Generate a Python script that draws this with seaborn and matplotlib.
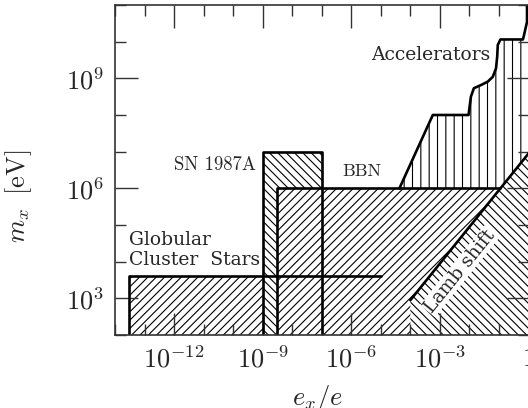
import numpy as np
import pandas as pd
import matplotlib
matplotlib.use("Agg")
import matplotlib.pyplot as plt
import seaborn as sns

# ---- excluded regions in the (e_x/e, m_x) plane ----
# Globular cluster stars box
glob_x = [3e-14, 1e-5]
glob_y = [1e2, 4e3]

# SN 1987A box
sn_x = [1e-9, 1e-7]
sn_y = [1e2, 1e7]

# Big-bang nucleosynthesis box
bbn_x = [3e-9, 1.0]
bbn_y = [1e2, 1e6]

# Accelerator limit (log10 of e_x/e and log10 of m_x / eV)
acc_logx = [-4.37, -3.24, -2.03, -1.95, -1.85, -1.60, -1.38, -1.21,
            -1.10, -1.06, -1.04, -0.95, -0.19, -0.16, -0.05, -0.05]
acc_logy = [6.00, 8.00, 8.00, 8.50, 8.73, 8.82, 8.91, 9.04,
            9.27, 9.59, 9.91, 10.06, 10.06, 10.15, 10.54, 11.20]

# Lamb shift limit: straight line in log-log
lamb_logx = [-4.0, 0.0]
lamb_logy = [2.95, 6.95]

# axis ticks
xmajor = [1e-12, 1e-9, 1e-6, 1e-3, 1.0]
xmajor_labels = [r"$10^{-12}$", r"$10^{-9}$", r"$10^{-6}$", r"$10^{-3}$", r"$1$"]
xminor = [1e-14, 1e-13, 1e-11, 1e-10, 1e-8, 1e-7, 1e-5, 1e-4, 1e-2, 1e-1]
ymajor = [1e3, 1e6, 1e9]
ymajor_labels = [r"$10^{3}$", r"$10^{6}$", r"$10^{9}$"]
yminor = [1e2, 1e4, 1e5, 1e7, 1e8, 1e10, 1e11]

sns.set_style("ticks")
plt.rcParams["mathtext.fontset"] = "cm"
plt.rcParams["font.family"] = ["DejaVu Serif", "DejaVu Sans"]
plt.rcParams["hatch.linewidth"] = 0.8
plt.rcParams["hatch.color"] = "black"

fig = plt.figure(figsize=(5.28, 4.08), dpi=100)
ax = fig.add_axes([115 / 528, 73 / 408, 413.5 / 528, 330 / 408])
ax.set_xscale("log")
ax.set_yscale("log")
ax.set_xlim(1e-14, 1.0)
ax.set_ylim(1e2, 1e11)

acc_x = [10 ** v for v in acc_logx]
acc_y = [10 ** v for v in acc_logy]
lamb_x = [10 ** v for v in lamb_logx]
lamb_y = [10 ** v for v in lamb_logy]


def box(xr, yr):
    return [xr[0], xr[0], xr[1], xr[1]], [yr[0], yr[1], yr[1], yr[0]]


fwd = "////"
back = "\\\\\\\\"

# hatched fills, later ones painted over earlier ones
gx, gy = box(glob_x, glob_y)
ax.fill(gx, gy, facecolor="white", edgecolor="black", linewidth=0, hatch=fwd, zorder=1)
sx, sy = box(sn_x, sn_y)
ax.fill(sx, sy, facecolor="white", edgecolor="black", linewidth=0, hatch=back, zorder=1.1)
bx, by = box(bbn_x, bbn_y)
ax.fill(bx, by, facecolor="white", edgecolor="black", linewidth=0, hatch=fwd, zorder=1.2)
ax.fill(acc_x + [1.0, 1.0], acc_y + [acc_y[-1], acc_y[0]],
        facecolor="white", edgecolor="black", linewidth=0, hatch="||", zorder=1.3)
ax.fill([lamb_x[0]] + lamb_x + [lamb_x[1]], [bbn_y[0]] + lamb_y + [bbn_y[0]],
        facecolor="white", edgecolor="black", linewidth=0, hatch=back, zorder=1.4)

# region outlines
lw = 1.9
cross_x = 10 ** (np.log10(bbn_y[1]) - (lamb_logy[0] - lamb_logx[0]))
outlines = [
    ([glob_x[0], glob_x[0], glob_x[1]], [glob_y[0], glob_y[1], glob_y[1]]),
    (sx, sy),
    ([bbn_x[0], bbn_x[0], cross_x], [bbn_y[0], bbn_y[1], bbn_y[1]]),
    (acc_x, acc_y),
    (lamb_x, lamb_y),
]
for ox, oy in outlines:
    sns.lineplot(x=ox, y=oy, sort=False, estimator=None, color="black",
                 linewidth=lw, ax=ax, zorder=3)

# labels
ax.text(10 ** -3.30, 10 ** 9.64, "Accelerators", fontsize=13.5, ha="center",
        va="center", zorder=4)
ax.text(10 ** -10.62, 10 ** 6.64, "SN 1987A", family="cmr10", fontsize=13.5,
        ha="center", va="center", zorder=4)
ax.text(10 ** -5.63, 10 ** 6.45, "BBN", family="cmr10", fontsize=13,
        ha="center", va="center", zorder=4)
ax.text(10 ** -13.53, 10 ** 4.45, "Globular", fontsize=13.5, ha="left",
        va="baseline", zorder=4)
ax.text(10 ** -13.53, 10 ** 3.91, "Cluster  Stars", fontsize=13.5, ha="left",
        va="baseline", zorder=4)
ax.text(10 ** -2.33, 10 ** 3.74, "Lamb shift", fontsize=13.5, ha="center",
        va="center", rotation=51, rotation_mode="anchor", zorder=4,
        bbox=dict(facecolor="white", edgecolor="none", pad=0.5))

# axes styling
ax.set_axisbelow(False)
ax.xaxis.set_major_locator(matplotlib.ticker.FixedLocator(xmajor))
ax.xaxis.set_major_formatter(matplotlib.ticker.FixedFormatter(xmajor_labels))
ax.xaxis.set_minor_locator(matplotlib.ticker.FixedLocator(xminor))
ax.xaxis.set_minor_formatter(matplotlib.ticker.NullFormatter())
ax.yaxis.set_major_locator(matplotlib.ticker.FixedLocator(ymajor))
ax.yaxis.set_major_formatter(matplotlib.ticker.FixedFormatter(ymajor_labels))
ax.yaxis.set_minor_locator(matplotlib.ticker.FixedLocator(yminor))
ax.yaxis.set_minor_formatter(matplotlib.ticker.NullFormatter())

tick_color = "#333333"
ax.tick_params(which="both", direction="in", top=True, right=True,
               color=tick_color, width=1.0, labelsize=19, pad=8)
ax.tick_params(which="major", length=16.2)
ax.tick_params(which="minor", length=8.1)
for s in ax.spines.values():
    s.set_color(tick_color)
    s.set_linewidth(1.2)
    s.set_zorder(5)

ax.set_xlabel(r"$e_x/e$", fontsize=19)
ax.set_ylabel(r"$m_x\;\;[\mathrm{eV}]$", fontsize=19)
ax.xaxis.set_label_coords(0.49, -0.145)
ax.yaxis.set_label_coords(-0.195, 0.42)

fig.savefig("out.png", dpi=100)
